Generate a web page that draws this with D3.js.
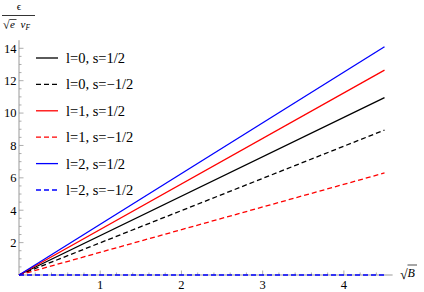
<!DOCTYPE html>
<html>
<head>
<meta charset="utf-8">
<script src="https://cdn.jsdelivr.net/npm/d3@7"></script>
<style>
  body { margin: 0; background: #fff; }
  svg text { font-family: 'Liberation Serif', serif; }
</style>
</head>
<body>
<svg id="chart" width="424" height="292"></svg>
<script>
// data: each level is a straight line from the origin
var xs = [0, 4.5];
var seriesNames = ['l=0, s=1/2', 'l=0, s=\u22121/2', 'l=1, s=1/2', 'l=1, s=\u22121/2', 'l=2, s=1/2', 'l=2, s=\u22121/2'];
var seriesEnd = [10.95, 8.95, 12.65, 6.3, 14.1, 0];
var seriesColor = ['#000', '#000', '#ff0000', '#ff0000', '#0000ff', '#0000ff'];
var seriesDashed = [false, true, false, true, false, true];
var xTicks = [1, 2, 3, 4];
var yTicks = [2, 4, 6, 8, 10, 12, 14];

var svg = d3.select('#chart');

var x = d3.scaleLinear().domain([0, 4.5]).range([19, 384.5]);
var y = d3.scaleLinear().domain([0, 14]).range([275, 48.3]);

var axisColor = '#999';

// x axis
svg.append('line').attr('x1', x(0)).attr('x2', x(4.6)).attr('y1', y(0)).attr('y2', y(0))
    .attr('stroke', axisColor).attr('stroke-width', 1);
d3.range(1, 23).forEach(function(i) {
    var v = i * 0.2, major = (i % 5 == 0);
    svg.append('line').attr('x1', x(v)).attr('x2', x(v))
        .attr('y1', y(0)).attr('y2', y(0) - (major ? 4.5 : 2.5))
        .attr('stroke', axisColor).attr('stroke-width', 0.8);
});
xTicks.forEach(function(v) {
    svg.append('text').attr('x', x(v)).attr('y', y(0) + 14).attr('text-anchor', 'middle')
        .style('font-size', '12.5px').text(v);
});

// y axis
svg.append('line').attr('x1', x(0)).attr('x2', x(0)).attr('y1', y(0)).attr('y2', y(14.5))
    .attr('stroke', axisColor).attr('stroke-width', 1);
d3.range(1, 29).forEach(function(i) {
    var v = i * 0.5, major = (i % 4 == 0);
    svg.append('line').attr('x1', x(0)).attr('x2', x(0) + (major ? 4.5 : 2.5))
        .attr('y1', y(v)).attr('y2', y(v))
        .attr('stroke', axisColor).attr('stroke-width', 0.8);
});
yTicks.forEach(function(v) {
    svg.append('text').attr('x', x(0) - 2.5).attr('y', y(v) + 4.3).attr('text-anchor', 'end')
        .style('font-size', '12.5px').text(v);
});

// lines
var line = d3.line().x(function(d) { return x(d[0]); }).y(function(d) { return y(d[1]); });
seriesEnd.forEach(function(e, i) {
    svg.append('path').datum([[xs[0], 0], [xs[1], e]]).attr('d', line)
        .attr('fill', 'none').attr('stroke', seriesColor[i]).attr('stroke-width', 1.3)
        .attr('stroke-dasharray', seriesDashed[i] ? '5,3' : null);
});

// legend
seriesNames.forEach(function(n, i) {
    var ly = 58 + i * 26.4;
    svg.append('line').attr('x1', 36).attr('x2', 58).attr('y1', ly).attr('y2', ly)
        .attr('stroke', seriesColor[i]).attr('stroke-width', 1.3)
        .attr('stroke-dasharray', seriesDashed[i] ? '5,3' : null);
    svg.append('text').attr('x', 66).attr('y', ly + 5)
        .style('font-size', '14.5px').text(n);
});

// y label: epsilon / (sqrt(e) v_F)
var yl = svg.append('g');
yl.append('text').attr('x', 19).attr('y', 10).attr('text-anchor', 'middle')
    .style('font-size', '11px').text('\u03f5');
yl.append('line').attr('x1', 2).attr('x2', 35).attr('y1', 15.5).attr('y2', 15.5)
    .attr('stroke', '#000').attr('stroke-width', 0.8);
yl.append('text').attr('x', 3).attr('y', 29).style('font-size', '12px').text('\u221a');
yl.append('line').attr('x1', 9.5).attr('x2', 16.5).attr('y1', 19.5).attr('y2', 19.5)
    .attr('stroke', '#000').attr('stroke-width', 0.7);
yl.append('text').attr('x', 10).attr('y', 28).style('font-size', '11px').style('font-style', 'italic').text('e');
yl.append('text').attr('x', 20.5).attr('y', 28).style('font-size', '11px').style('font-style', 'italic').text('v');
yl.append('text').attr('x', 25.5).attr('y', 30).style('font-size', '7.5px').style('font-style', 'italic').text('F');

// x label: sqrt(B)
var xl = svg.append('g');
xl.append('text').attr('x', 400).attr('y', 279).style('font-size', '14px').text('\u221a');
xl.append('line').attr('x1', 407.5).attr('x2', 417).attr('y1', 265).attr('y2', 265)
    .attr('stroke', '#000').attr('stroke-width', 0.7);
xl.append('text').attr('x', 407.5).attr('y', 277).style('font-size', '12px').style('font-style', 'italic').text('B');
</script>
</body>
</html>
